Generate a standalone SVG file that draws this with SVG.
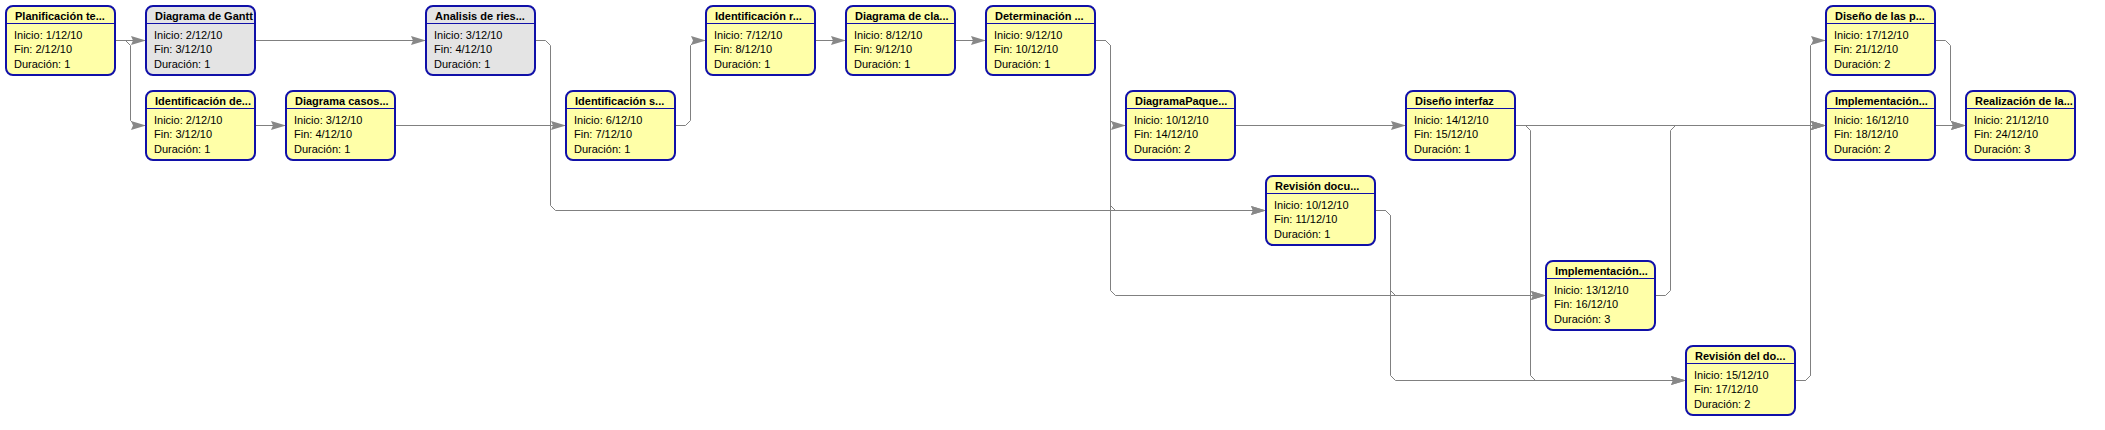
<svg xmlns="http://www.w3.org/2000/svg" width="2105" height="430" viewBox="0 0 2105 430">
<style>
.box{fill:#ffffa8;stroke:#1010a8;stroke-width:2}
.gray .box{fill:#e4e4e4}
.sep{stroke:#1010a8;stroke-width:1}
.h{font-family:"Liberation Sans",Arial,sans-serif;font-size:11px;font-weight:bold;fill:#000}
.t{font-family:"Liberation Sans",Arial,sans-serif;font-size:11px;fill:#000}
#connectors path{fill:none;stroke:#808080;stroke-width:1;marker-end:url(#arr)}
</style>
<defs>
<marker id="arr" markerUnits="userSpaceOnUse" viewBox="0 0 15 9" refX="15" refY="4.5" markerWidth="15" markerHeight="9" orient="auto">
<path d="M0,0 L15,4.5 L0,9 L2,4.5 z" fill="#888888"/>
</marker>
<clipPath id="clipG"><rect x="0" y="0" width="108" height="69"/></clipPath>
</defs>
<rect width="2105" height="430" fill="#ffffff"/>
<g id="connectors">
<path d="M115.5,40.5 H146"/>
<path d="M115.5,40.5 H125.5 L130.5,45.5 V120.5 L135.5,125.5 H146"/>
<path d="M255.5,40.5 H426"/>
<path d="M255.5,125.5 H286"/>
<path d="M395.5,125.5 H566"/>
<path d="M535.5,40.5 H545.5 L550.5,45.5 V205.5 L555.5,210.5 H1266"/>
<path d="M675.5,125.5 H685.5 L690.5,120.5 V45.5 L695.5,40.5 H706"/>
<path d="M815.5,40.5 H846"/>
<path d="M955.5,40.5 H986"/>
<path d="M1095.5,40.5 H1105.5 L1110.5,45.5 V120.5 L1115.5,125.5 H1126"/>
<path d="M1095.5,40.5 H1105.5 L1110.5,45.5 V205.5 L1115.5,210.5 H1266"/>
<path d="M1095.5,40.5 H1105.5 L1110.5,45.5 V290.5 L1115.5,295.5 H1546"/>
<path d="M1235.5,125.5 H1406"/>
<path d="M1375.5,210.5 H1385.5 L1390.5,215.5 V375.5 L1395.5,380.5 H1686"/>
<path d="M1375.5,210.5 H1385.5 L1390.5,215.5 V290.5 L1395.5,295.5 H1546"/>
<path d="M1515.5,125.5 H1826"/>
<path d="M1515.5,125.5 H1525.5 L1530.5,130.5 V375.5 L1535.5,380.5 H1686"/>
<path d="M1655.5,295.5 H1665.5 L1670.5,290.5 V130.5 L1675.5,125.5 H1826"/>
<path d="M1795.5,380.5 H1805.5 L1810.5,375.5 V45.5 L1815.5,40.5 H1826"/>
<path d="M1795.5,380.5 H1805.5 L1810.5,375.5 V130.5 L1815.5,125.5 H1826"/>
<path d="M1935.5,40.5 H1945.5 L1950.5,45.5 V120.5 L1955.5,125.5 H1966"/>
<path d="M1935.5,125.5 H1966"/>
</g>
<g id="n1" transform="translate(6,6)"><rect class="box" width="109" height="69" rx="7"/><line class="sep" x1="0" y1="17.5" x2="109" y2="17.5"/><text class="h" x="9" y="14">Planificación te...</text><text class="t" x="8" y="32.5">Inicio: 1/12/10</text><text class="t" x="8" y="47">Fin: 2/12/10</text><text class="t" x="8" y="61.5">Duración: 1</text></g>
<g id="n2" class="gray" transform="translate(146,6)"><rect class="box" width="109" height="69" rx="7"/><line class="sep" x1="0" y1="17.5" x2="109" y2="17.5"/><text class="h" x="9" y="14" clip-path="url(#clipG)">Diagrama de Gantt</text><text class="t" x="8" y="32.5">Inicio: 2/12/10</text><text class="t" x="8" y="47">Fin: 3/12/10</text><text class="t" x="8" y="61.5">Duración: 1</text></g>
<g id="n3" transform="translate(146,91)"><rect class="box" width="109" height="69" rx="7"/><line class="sep" x1="0" y1="17.5" x2="109" y2="17.5"/><text class="h" x="9" y="14">Identificación de...</text><text class="t" x="8" y="32.5">Inicio: 2/12/10</text><text class="t" x="8" y="47">Fin: 3/12/10</text><text class="t" x="8" y="61.5">Duración: 1</text></g>
<g id="n4" transform="translate(286,91)"><rect class="box" width="109" height="69" rx="7"/><line class="sep" x1="0" y1="17.5" x2="109" y2="17.5"/><text class="h" x="9" y="14">Diagrama casos...</text><text class="t" x="8" y="32.5">Inicio: 3/12/10</text><text class="t" x="8" y="47">Fin: 4/12/10</text><text class="t" x="8" y="61.5">Duración: 1</text></g>
<g id="n5" class="gray" transform="translate(426,6)"><rect class="box" width="109" height="69" rx="7"/><line class="sep" x1="0" y1="17.5" x2="109" y2="17.5"/><text class="h" x="9" y="14">Analisis de ries...</text><text class="t" x="8" y="32.5">Inicio: 3/12/10</text><text class="t" x="8" y="47">Fin: 4/12/10</text><text class="t" x="8" y="61.5">Duración: 1</text></g>
<g id="n6" transform="translate(566,91)"><rect class="box" width="109" height="69" rx="7"/><line class="sep" x1="0" y1="17.5" x2="109" y2="17.5"/><text class="h" x="9" y="14">Identificación s...</text><text class="t" x="8" y="32.5">Inicio: 6/12/10</text><text class="t" x="8" y="47">Fin: 7/12/10</text><text class="t" x="8" y="61.5">Duración: 1</text></g>
<g id="n7" transform="translate(706,6)"><rect class="box" width="109" height="69" rx="7"/><line class="sep" x1="0" y1="17.5" x2="109" y2="17.5"/><text class="h" x="9" y="14">Identificación r...</text><text class="t" x="8" y="32.5">Inicio: 7/12/10</text><text class="t" x="8" y="47">Fin: 8/12/10</text><text class="t" x="8" y="61.5">Duración: 1</text></g>
<g id="n8" transform="translate(846,6)"><rect class="box" width="109" height="69" rx="7"/><line class="sep" x1="0" y1="17.5" x2="109" y2="17.5"/><text class="h" x="9" y="14">Diagrama de cla...</text><text class="t" x="8" y="32.5">Inicio: 8/12/10</text><text class="t" x="8" y="47">Fin: 9/12/10</text><text class="t" x="8" y="61.5">Duración: 1</text></g>
<g id="n9" transform="translate(986,6)"><rect class="box" width="109" height="69" rx="7"/><line class="sep" x1="0" y1="17.5" x2="109" y2="17.5"/><text class="h" x="9" y="14">Determinación ...</text><text class="t" x="8" y="32.5">Inicio: 9/12/10</text><text class="t" x="8" y="47">Fin: 10/12/10</text><text class="t" x="8" y="61.5">Duración: 1</text></g>
<g id="n10" transform="translate(1126,91)"><rect class="box" width="109" height="69" rx="7"/><line class="sep" x1="0" y1="17.5" x2="109" y2="17.5"/><text class="h" x="9" y="14">DiagramaPaque...</text><text class="t" x="8" y="32.5">Inicio: 10/12/10</text><text class="t" x="8" y="47">Fin: 14/12/10</text><text class="t" x="8" y="61.5">Duración: 2</text></g>
<g id="n11" transform="translate(1266,176)"><rect class="box" width="109" height="69" rx="7"/><line class="sep" x1="0" y1="17.5" x2="109" y2="17.5"/><text class="h" x="9" y="14">Revisión docu...</text><text class="t" x="8" y="32.5">Inicio: 10/12/10</text><text class="t" x="8" y="47">Fin: 11/12/10</text><text class="t" x="8" y="61.5">Duración: 1</text></g>
<g id="n12" transform="translate(1406,91)"><rect class="box" width="109" height="69" rx="7"/><line class="sep" x1="0" y1="17.5" x2="109" y2="17.5"/><text class="h" x="9" y="14">Diseño interfaz</text><text class="t" x="8" y="32.5">Inicio: 14/12/10</text><text class="t" x="8" y="47">Fin: 15/12/10</text><text class="t" x="8" y="61.5">Duración: 1</text></g>
<g id="n13" transform="translate(1546,261)"><rect class="box" width="109" height="69" rx="7"/><line class="sep" x1="0" y1="17.5" x2="109" y2="17.5"/><text class="h" x="9" y="14">Implementación...</text><text class="t" x="8" y="32.5">Inicio: 13/12/10</text><text class="t" x="8" y="47">Fin: 16/12/10</text><text class="t" x="8" y="61.5">Duración: 3</text></g>
<g id="n14" transform="translate(1686,346)"><rect class="box" width="109" height="69" rx="7"/><line class="sep" x1="0" y1="17.5" x2="109" y2="17.5"/><text class="h" x="9" y="14">Revisión del do...</text><text class="t" x="8" y="32.5">Inicio: 15/12/10</text><text class="t" x="8" y="47">Fin: 17/12/10</text><text class="t" x="8" y="61.5">Duración: 2</text></g>
<g id="n15" transform="translate(1826,6)"><rect class="box" width="109" height="69" rx="7"/><line class="sep" x1="0" y1="17.5" x2="109" y2="17.5"/><text class="h" x="9" y="14">Diseño de las p...</text><text class="t" x="8" y="32.5">Inicio: 17/12/10</text><text class="t" x="8" y="47">Fin: 21/12/10</text><text class="t" x="8" y="61.5">Duración: 2</text></g>
<g id="n16" transform="translate(1826,91)"><rect class="box" width="109" height="69" rx="7"/><line class="sep" x1="0" y1="17.5" x2="109" y2="17.5"/><text class="h" x="9" y="14">Implementación...</text><text class="t" x="8" y="32.5">Inicio: 16/12/10</text><text class="t" x="8" y="47">Fin: 18/12/10</text><text class="t" x="8" y="61.5">Duración: 2</text></g>
<g id="n17" transform="translate(1966,91)"><rect class="box" width="109" height="69" rx="7"/><line class="sep" x1="0" y1="17.5" x2="109" y2="17.5"/><text class="h" x="9" y="14">Realización de la...</text><text class="t" x="8" y="32.5">Inicio: 21/12/10</text><text class="t" x="8" y="47">Fin: 24/12/10</text><text class="t" x="8" y="61.5">Duración: 3</text></g>
</svg>
